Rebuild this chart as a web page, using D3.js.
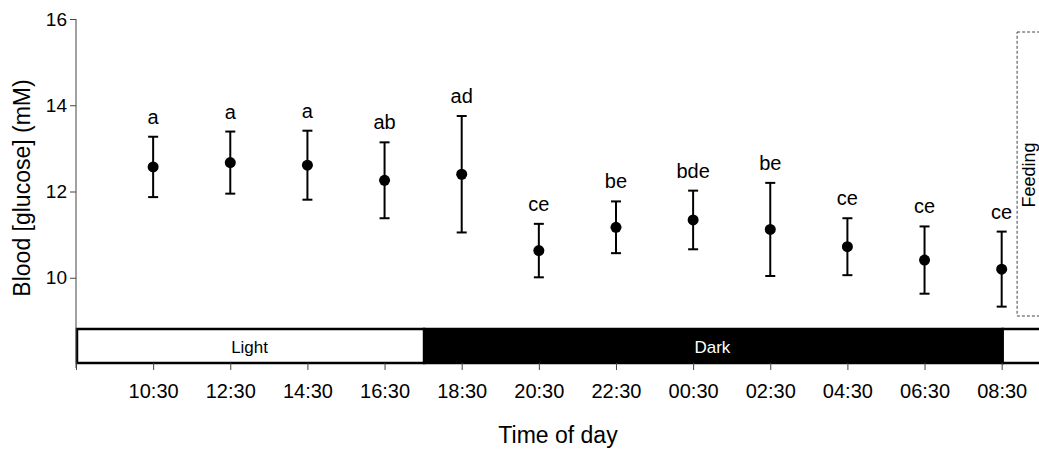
<!DOCTYPE html>
<html>
<head>
<meta charset="utf-8">
<script src="https://cdn.jsdelivr.net/npm/d3@7"></script>
<style>
  body { margin: 0; background: #fff; }
  svg { display: block; font-family: Arial, 'Liberation Sans', sans-serif; }
</style>
</head>
<body>
<div id="chart"></div>
<script>
// blood glucose across the day, mean +/- error with group letters
const times = ['10:30', '12:30', '14:30', '16:30', '18:30', '20:30', '22:30', '00:30', '02:30', '04:30', '06:30', '08:30'];
const glucose = [12.57, 12.67, 12.61, 12.26, 12.40, 10.63, 11.17, 11.34, 11.12, 10.72, 10.41, 10.20];
const errors = [0.70, 0.72, 0.80, 0.88, 1.35, 0.62, 0.60, 0.68, 1.08, 0.66, 0.78, 0.87];
const letters = ['a', 'a', 'a', 'ab', 'ad', 'ce', 'be', 'bde', 'be', 'ce', 'ce', 'ce'];
const yTicks = [10, 12, 14, 16];

const phaseLabels = ['Light', 'Dark', ''];
const phaseStarts = ['08:30', '17:30', '08:30+'];
const phaseEnds = ['17:30', '08:30+', '09:30+'];
const feedingStart = '08:54+';

const width = 1039;
const height = 452;
const margin = {top: 19, right: 0, bottom: 88, left: 76};

// times past midnight (or marked with +) fall on the next day
let base = new Date(2000, 0, 1);
let toDate = (s, forceNext) => {
  let next = s.endsWith('+');
  let [h, m] = s.replace('+', '').split(':').map(Number);
  let d = new Date(base);
  d.setHours(h, m);
  if (next || forceNext || h < 8 || (h === 8 && m <= 30)) d.setDate(d.getDate() + 1);
  return d;
};
let start = new Date(base); start.setHours(8, 30);
let end = toDate('09:30+');
let dates = times.map(t => toDate(t));

let x = d3.scaleTime()
  .domain([start, end])
  .range([margin.left, margin.left + 25 * 38.57]);

let y = d3.scaleLinear()
  .domain([8, 16])
  .range([height - margin.bottom, margin.top]);

let svg = d3.select('#chart').append('svg')
  .attr('width', width)
  .attr('height', height);

// light / dark band
let bandTop = 329, bandBottom = 363;
let phaseStartDates = phaseStarts.map((s, i) => i === 0 ? start : toDate(s));
let phaseEndDates = phaseEnds.map(s => toDate(s));

svg.append('g').selectAll('rect')
  .data(phaseLabels)
  .enter().append('rect')
  .attr('x', (d, i) => x(phaseStartDates[i]) + 1)
  .attr('y', bandTop)
  .attr('width', (d, i) => x(phaseEndDates[i]) - x(phaseStartDates[i]))
  .attr('height', bandBottom - bandTop)
  .attr('fill', d => d === 'Dark' ? '#000' : '#fff')
  .attr('stroke', '#000')
  .attr('stroke-width', 2.5);

svg.append('g').selectAll('text')
  .data(phaseLabels)
  .enter().append('text')
  .attr('x', (d, i) => (x(phaseStartDates[i]) + x(phaseEndDates[i])) / 2)
  .attr('y', 353)
  .attr('text-anchor', 'middle')
  .attr('font-size', 17)
  .attr('fill', d => d === 'Dark' ? '#fff' : '#000')
  .text(d => d);

// feeding window
let fx = x(toDate(feedingStart));
svg.append('rect')
  .attr('x', fx)
  .attr('y', 32)
  .attr('width', width - fx + 10)
  .attr('height', 284)
  .attr('fill', 'none')
  .attr('stroke', '#444')
  .attr('stroke-width', 1)
  .attr('stroke-dasharray', '3,2');

svg.append('text')
  .attr('transform', 'translate(' + (fx + 18) + ',175) rotate(-90)')
  .attr('text-anchor', 'middle')
  .attr('font-size', 18)
  .text('Feeding');

// axes
let yAxis = svg.append('g')
  .attr('transform', 'translate(' + margin.left + ',0)')
  .call(d3.axisLeft(y).tickValues(yTicks).tickSize(6).tickPadding(3).tickFormat(d3.format('d')));
yAxis.select('.domain').attr('stroke', '#444').attr('d', 'M0,' + y(16) + 'V368');
yAxis.selectAll('.tick line').attr('stroke', '#444');
yAxis.selectAll('.tick text').attr('font-size', 19).attr('fill', '#000');

let fmt = d3.timeFormat('%H:%M');
let xAxis = svg.append('g')
  .attr('transform', 'translate(0,' + bandBottom + ')')
  .call(d3.axisBottom(x)
    .tickValues([start].concat(dates))
    .tickSize(7)
    .tickPadding(14)
    .tickFormat(d => d === start ? '' : fmt(d)));
xAxis.select('.domain').remove();
xAxis.selectAll('.tick line').attr('stroke', '#444');
xAxis.selectAll('.tick text').attr('font-size', 20).attr('fill', '#000');

// error bars, means and letters
let pts = svg.append('g').selectAll('g')
  .data(glucose)
  .enter().append('g');

pts.append('line')
  .attr('x1', (d, i) => x(dates[i]))
  .attr('x2', (d, i) => x(dates[i]))
  .attr('y1', (d, i) => y(d + errors[i]))
  .attr('y2', (d, i) => y(d - errors[i]))
  .attr('stroke', '#000')
  .attr('stroke-width', 2);

[1, -1].forEach(s => {
  pts.append('line')
    .attr('x1', (d, i) => x(dates[i]) - 5)
    .attr('x2', (d, i) => x(dates[i]) + 5)
    .attr('y1', (d, i) => y(d + s * errors[i]))
    .attr('y2', (d, i) => y(d + s * errors[i]))
    .attr('stroke', '#000')
    .attr('stroke-width', 2);
});

pts.append('circle')
  .attr('cx', (d, i) => x(dates[i]))
  .attr('cy', d => y(d))
  .attr('r', 5.5)
  .attr('fill', '#000');

pts.append('text')
  .attr('x', (d, i) => x(dates[i]))
  .attr('y', (d, i) => y(d + errors[i]) - 13)
  .attr('text-anchor', 'middle')
  .attr('font-size', 20)
  .text((d, i) => letters[i]);

// axis titles
svg.append('text')
  .attr('x', 558)
  .attr('y', 443)
  .attr('text-anchor', 'middle')
  .attr('font-size', 23)
  .text('Time of day');

svg.append('text')
  .attr('transform', 'translate(30,188) rotate(-90)')
  .attr('text-anchor', 'middle')
  .attr('font-size', 23)
  .text('Blood [glucose] (mM)');
</script>
</body>
</html>
